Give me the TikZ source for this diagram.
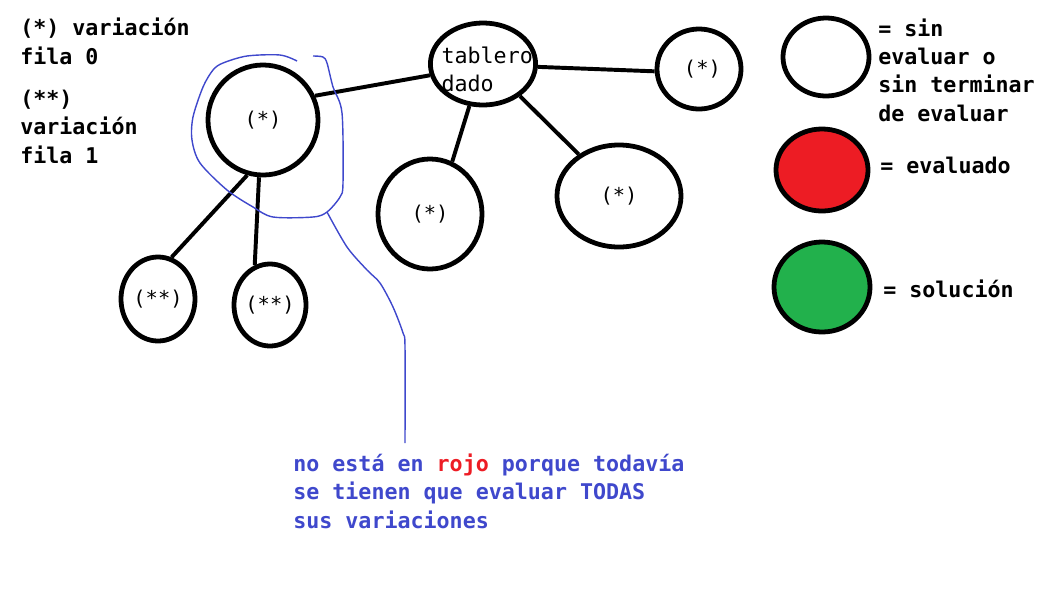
\documentclass[tikz,border=0pt]{standalone}
\usepackage{fontspec}
\setmonofont{DejaVu Sans Mono}
\usetikzlibrary{shapes.geometric}
\usepackage{xcolor}
\definecolor{azul}{HTML}{3F48CC}
\definecolor{rojo}{HTML}{ED1C24}
\definecolor{verde}{HTML}{22B14C}

\begin{document}
\begin{tikzpicture}[x=0.025cm, y=-0.025cm,
  main/.style = {draw, ellipse, line width=3.4pt, inner sep=0pt, align=left,
    font=\ttfamily\fontsize{14.5}{20}\selectfont},
  txt/.style = {inner sep=0pt, align=left,
    font=\ttfamily\bfseries\fontsize{15.4}{20}\selectfont}]
      \useasboundingbox (0,0) rectangle (1043,607);

      % arbol
      \node[main, minimum width=2.5cm, minimum height=2.05cm, inner xsep=-9pt, inner ysep=-3pt,
        font=\ttfamily\fontsize{15.4}{20}\selectfont] (1) at (483,64)
        {\hspace*{6pt}\rule{0pt}{20pt}tablero\\\hspace*{6pt}dado};
      \node[main, minimum width=2.75cm, minimum height=2.75cm] (2) at (263,120) {(*)};
      \node[main, minimum width=2.1cm, minimum height=2cm] (3) at (699,69) {\,\,(*)};
      \node[main, minimum width=2.6cm, minimum height=2.75cm] (4) at (430,214) {(*)};
      \node[main, minimum width=3.1cm, minimum height=2.55cm] (5) at (619,196) {(*)};
      \node[main, minimum width=1.85cm, minimum height=2.1cm] (6) at (158,299) {(**)};
      \node[main, minimum width=1.8cm, minimum height=2.05cm] (7) at (270,305) {(**)};

      \path[-, line width=2.8pt]
      (2.25)  edge (1.192)
      (1.357) edge (3.183)
      (1.252) edge (4.67)
      (1.319) edge (5.134)
      (2.254) edge (6.72)
      (2.266) edge (7.111);

      % leyenda
      \node[main, minimum width=2.15cm, minimum height=1.95cm] (l1) at (826,57) {};
      \node[main, minimum width=2.3cm, minimum height=2.05cm, fill=rojo] (l2) at (822,170) {};
      \node[main, minimum width=2.4cm, minimum height=2.25cm, fill=verde] (l3) at (822,287) {};
      \node[txt, anchor=base west] (t1) at (878,121) {= sin\\evaluar o\\sin terminar\\de evaluar};
      \node[txt, anchor=base west] (t2) at (880,173) {= evaluado};
      \node[txt, anchor=base west] (t3) at (883,297) {= solución};

      \node[txt, anchor=base west] (f0) at (20,64) {(*) variación\\fila 0};
      \node[txt, anchor=base west] (f1) at (20,163) {(**)\\variación\\fila 1};

      % nota
      \draw[azul, line width=1pt] plot[smooth] coordinates {(297,61) (280,55) (247,56) (223,63)
        (213,70) (203,87) (193,117) (192,140) (200,163) (227,190) (253,207) (273,217)
        (313,217) (327,212) (340,197) (343,183) (342,113) (333,87) (327,63) (323,57) (313,56)};
      \coordinate (n) at (405,443);
      \draw[azul, line width=1pt] plot[smooth] coordinates {(327,212) (347,247) (367,270)
        (380,283) (393,307) (403,333) (405,347) (n)};
      \node[txt, anchor=base west, text=azul] (nota) at (293,528)
        {no está en \textcolor{rojo}{rojo} porque todavía\\se tienen que evaluar TODAS\\sus variaciones};
    \end{tikzpicture}
\end{document}
